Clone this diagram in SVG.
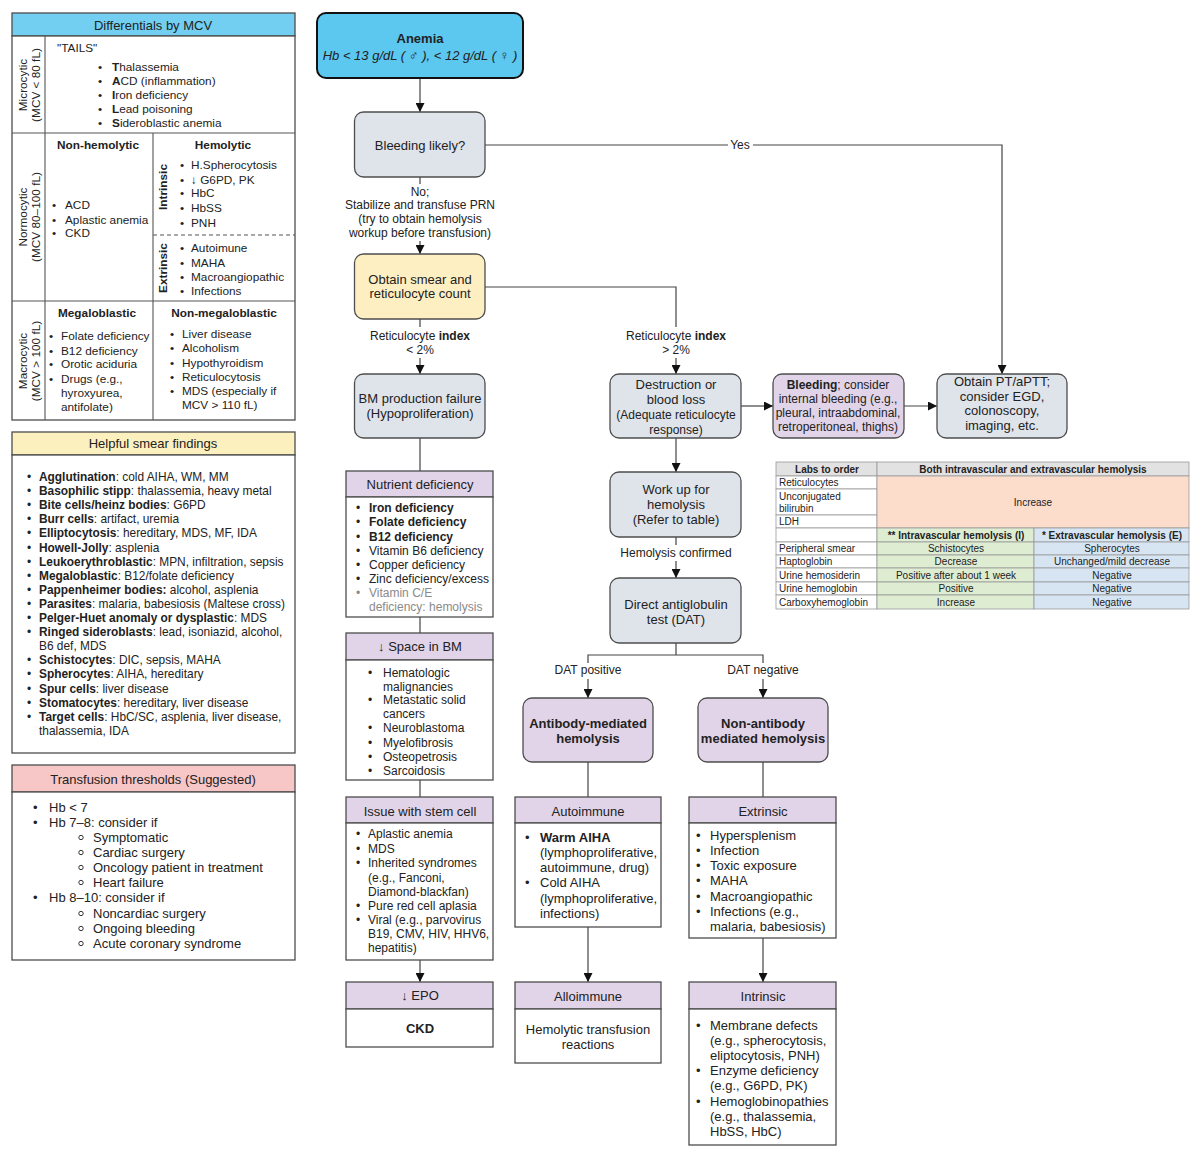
<svg xmlns="http://www.w3.org/2000/svg" width="1200" height="1151" viewBox="0 0 1200 1151">
<defs>
<marker id="ah" viewBox="0 0 10 10" refX="10" refY="5" markerWidth="9" markerHeight="9" markerUnits="userSpaceOnUse" orient="auto"><path d="M0,0 L10,5 L0,10 z" fill="#111"/></marker>
<style>
text{font-family:"Liberation Sans",Arial,Helvetica,sans-serif;fill:#222}
.c{text-anchor:middle}
.b{font-weight:bold}
.i{font-style:italic}
.f10{font-size:10px}
.f11{font-size:11.9px}
.f115{font-size:11.8px}
.f12{font-size:12px}
.f13{font-size:13px}
.box{stroke:#4d4d4d;stroke-width:1.3}
.g{fill:#dfe3ea}
.p{fill:#e1d4e9}
.y{fill:#fdefc2}
.w{fill:#fff}
.ln{stroke:#444;stroke-width:1.2;fill:none}
.ar{marker-end:url(#ah)}
.tl{stroke:#555;stroke-width:1.1;fill:none}
.cell{stroke:#9a9a9a;stroke-width:0.8}
.grey{fill:#8a8a8a}
.sb{fill:none;stroke:#333;stroke-width:1}
</style>
</defs>
<rect width="1200" height="1151" fill="#fff"/>

<!-- Differentials by MCV -->
<g id="mcv-panel">
<rect x="12" y="13" width="283" height="23" fill="#72cff1" class="box"/>
<text x="153" y="30" class="c f13">Differentials by MCV</text>
<rect x="12" y="36" width="283" height="384" class="w box"/>
<line x1="12" y1="133" x2="295" y2="133" class="tl"/>
<line x1="12" y1="301" x2="295" y2="301" class="tl"/>
<line x1="45" y1="36" x2="45" y2="420" class="tl"/>
<line x1="153" y1="133" x2="153" y2="420" class="tl"/>
<line x1="153" y1="235" x2="295" y2="235" class="tl" stroke-dasharray="4,3"/>
<text transform="translate(28,85) rotate(-90)" class="c f115"><tspan x="0" y="-1">Microcytic</tspan><tspan x="0" y="12">(MCV &lt; 80 fL)</tspan></text>
<text transform="translate(28,217) rotate(-90)" class="c f115"><tspan x="0" y="-1">Normocytic</tspan><tspan x="0" y="12">(MCV 80–100 fL)</tspan></text>
<text transform="translate(28,361) rotate(-90)" class="c f115"><tspan x="0" y="-1">Macrocytic</tspan><tspan x="0" y="12">(MCV &gt; 100 fL)</tspan></text>
<text x="57" y="52" class="f115">"TAILS"</text>
<g class="f115">
<text y="71"><tspan x="98">•</tspan><tspan x="112" class="b">T</tspan>halassemia</text>
<text y="85"><tspan x="98">•</tspan><tspan x="112" class="b">A</tspan>CD (inflammation)</text>
<text y="99"><tspan x="98">•</tspan><tspan x="112" class="b">I</tspan>ron deficiency</text>
<text y="113"><tspan x="98">•</tspan><tspan x="112" class="b">L</tspan>ead poisoning</text>
<text y="127"><tspan x="98">•</tspan><tspan x="112" class="b">S</tspan>ideroblastic anemia</text>
</g>
<text x="98" y="149" class="c b f115">Non-hemolytic</text>
<text x="223" y="149" class="c b f115">Hemolytic</text>
<text transform="translate(167,187) rotate(-90)" class="c b f115">Intrinsic</text>
<text transform="translate(167,268) rotate(-90)" class="c b f115">Extrinsic</text>
<g class="f115">
<text y="209"><tspan x="52">•</tspan><tspan x="65">ACD</tspan></text>
<text y="224"><tspan x="52">•</tspan><tspan x="65">Aplastic anemia</tspan></text>
<text y="237"><tspan x="52">•</tspan><tspan x="65">CKD</tspan></text>
<text y="169"><tspan x="180">•</tspan><tspan x="191">H.Spherocytosis</tspan></text>
<text y="184"><tspan x="180">•</tspan><tspan x="191">↓ G6PD, PK</tspan></text>
<text y="197"><tspan x="180">•</tspan><tspan x="191">HbC</tspan></text>
<text y="212"><tspan x="180">•</tspan><tspan x="191">HbSS</tspan></text>
<text y="227"><tspan x="180">•</tspan><tspan x="191">PNH</tspan></text>
<text y="252"><tspan x="180">•</tspan><tspan x="191">Autoimune</tspan></text>
<text y="267"><tspan x="180">•</tspan><tspan x="191">MAHA</tspan></text>
<text y="281"><tspan x="180">•</tspan><tspan x="191">Macroangiopathic</tspan></text>
<text y="295"><tspan x="180">•</tspan><tspan x="191">Infections</tspan></text>
</g>
<text x="97" y="317" class="c b f115">Megaloblastic</text>
<text x="224" y="317" class="c b f115">Non-megaloblastic</text>
<g class="f115">
<text y="340"><tspan x="49">•</tspan><tspan x="61">Folate deficiency</tspan></text>
<text y="355"><tspan x="49">•</tspan><tspan x="61">B12 deficiency</tspan></text>
<text y="368"><tspan x="49">•</tspan><tspan x="61">Orotic aciduria</tspan></text>
<text y="383"><tspan x="49">•</tspan><tspan x="61">Drugs (e.g.,</tspan></text>
<text x="61" y="397">hyroxyurea,</text>
<text x="61" y="411">antifolate)</text>
<text y="338"><tspan x="170">•</tspan><tspan x="182">Liver disease</tspan></text>
<text y="352"><tspan x="170">•</tspan><tspan x="182">Alcoholism</tspan></text>
<text y="367"><tspan x="170">•</tspan><tspan x="182">Hypothyroidism</tspan></text>
<text y="381"><tspan x="170">•</tspan><tspan x="182">Reticulocytosis</tspan></text>
<text y="395"><tspan x="170">•</tspan><tspan x="182">MDS (especially if</tspan></text>
<text x="182" y="409">MCV &gt; 110 fL)</text>
</g>
</g>

<!-- Helpful smear findings -->
<g id="smear-panel">
<rect x="12" y="432" width="283" height="23" fill="#fdf0bf" class="box"/>
<text x="153" y="448" class="c f13">Helpful smear findings</text>
<rect x="12" y="455" width="283" height="298" class="w box"/>
<g class="f11">
<text y="481"><tspan x="27">•</tspan><tspan x="39" class="b">Agglutination</tspan>: cold AIHA, WM, MM</text>
<text y="495.1"><tspan x="27">•</tspan><tspan x="39" class="b">Basophilic stipp</tspan>: thalassemia, heavy metal</text>
<text y="509.2"><tspan x="27">•</tspan><tspan x="39" class="b">Bite cells/heinz bodies</tspan>: G6PD</text>
<text y="523.3"><tspan x="27">•</tspan><tspan x="39" class="b">Burr cells</tspan>: artifact, uremia</text>
<text y="537.4"><tspan x="27">•</tspan><tspan x="39" class="b">Elliptocytosis</tspan>: hereditary, MDS, MF, IDA</text>
<text y="551.5"><tspan x="27">•</tspan><tspan x="39" class="b">Howell-Jolly</tspan>: asplenia</text>
<text y="565.6"><tspan x="27">•</tspan><tspan x="39" class="b">Leukoerythroblastic</tspan>: MPN, infiltration, sepsis</text>
<text y="579.7"><tspan x="27">•</tspan><tspan x="39" class="b">Megaloblastic</tspan>: B12/folate deficiency</text>
<text y="593.8"><tspan x="27">•</tspan><tspan x="39" class="b">Pappenheimer bodies:</tspan> alcohol, asplenia</text>
<text y="607.9"><tspan x="27">•</tspan><tspan x="39" class="b">Parasites</tspan>: malaria, babesiosis (Maltese cross)</text>
<text y="622"><tspan x="27">•</tspan><tspan x="39" class="b">Pelger-Huet anomaly or dysplastic</tspan>: MDS</text>
<text y="636.1"><tspan x="27">•</tspan><tspan x="39" class="b">Ringed sideroblasts</tspan>: lead, isoniazid, alcohol,</text>
<text x="39" y="650.2">B6 def, MDS</text>
<text y="664.3"><tspan x="27">•</tspan><tspan x="39" class="b">Schistocytes</tspan>: DIC, sepsis, MAHA</text>
<text y="678.4"><tspan x="27">•</tspan><tspan x="39" class="b">Spherocytes</tspan>: AIHA, hereditary</text>
<text y="692.5"><tspan x="27">•</tspan><tspan x="39" class="b">Spur cells</tspan>: liver disease</text>
<text y="706.6"><tspan x="27">•</tspan><tspan x="39" class="b">Stomatocytes</tspan>: hereditary, liver disease</text>
<text y="720.7"><tspan x="27">•</tspan><tspan x="39" class="b">Target cells</tspan>: HbC/SC, asplenia, liver disease,</text>
<text x="39" y="734.8">thalassemia, IDA</text>
</g>
</g>

<!-- Transfusion thresholds -->
<g id="transfusion-panel">
<rect x="12" y="765" width="283" height="27" fill="#f7c6c6" class="box"/>
<text x="153" y="784" class="c f13">Transfusion thresholds (Suggested)</text>
<rect x="12" y="792" width="283" height="168" class="w box"/>
<g class="f13">
<text y="812"><tspan x="33">•</tspan><tspan x="49">Hb &lt; 7</tspan></text>
<text y="827"><tspan x="33">•</tspan><tspan x="49">Hb 7–8: consider if</tspan></text>
<text x="93" y="842">Symptomatic</text>
<text x="93" y="857">Cardiac surgery</text>
<text x="93" y="872">Oncology patient in treatment</text>
<text x="93" y="887">Heart failure</text>
<text y="902"><tspan x="33">•</tspan><tspan x="49">Hb 8–10: consider if</tspan></text>
<text x="93" y="918">Noncardiac surgery</text>
<text x="93" y="933">Ongoing bleeding</text>
<text x="93" y="948">Acute coronary syndrome</text>
</g>
<circle cx="81" cy="837.5" r="2.2" class="sb"/>
<circle cx="81" cy="852.5" r="2.2" class="sb"/>
<circle cx="81" cy="867.5" r="2.2" class="sb"/>
<circle cx="81" cy="882.5" r="2.2" class="sb"/>
<circle cx="81" cy="913.5" r="2.2" class="sb"/>
<circle cx="81" cy="928.5" r="2.2" class="sb"/>
<circle cx="81" cy="943.5" r="2.2" class="sb"/>
</g>

<!-- Connectors -->
<g id="connectors">
<line x1="420" y1="79" x2="420" y2="112" class="ln ar"/>
<line x1="420" y1="177" x2="420" y2="184" class="ln"/>
<line x1="420" y1="241" x2="420" y2="254" class="ln ar"/>
<polyline points="485,145 728,145" class="ln"/>
<polyline points="753,145 1002,145 1002,374" class="ln ar"/>
<line x1="420" y1="319" x2="420" y2="327" class="ln"/>
<line x1="420" y1="358" x2="420" y2="374" class="ln ar"/>
<polyline points="485,287 676,287 676,327" class="ln"/>
<line x1="676" y1="358" x2="676" y2="374" class="ln ar"/>
<line x1="741" y1="406" x2="773" y2="406" class="ln ar"/>
<line x1="904" y1="406" x2="937" y2="406" class="ln ar"/>
<line x1="676" y1="438" x2="676" y2="472" class="ln ar"/>
<line x1="676" y1="537" x2="676" y2="545" class="ln"/>
<line x1="676" y1="561" x2="676" y2="578" class="ln ar"/>
<polyline points="676,643 676,655" class="ln"/>
<polyline points="588,663 588,655 763,655 763,663" class="ln"/>
<line x1="588" y1="679" x2="588" y2="698" class="ln ar"/>
<line x1="763" y1="679" x2="763" y2="698" class="ln ar"/>
<line x1="588" y1="762" x2="588" y2="797" class="ln"/>
<line x1="763" y1="762" x2="763" y2="797" class="ln"/>
<line x1="588" y1="927" x2="588" y2="982" class="ln ar"/>
<line x1="763" y1="938" x2="763" y2="982" class="ln ar"/>
<line x1="420" y1="438" x2="420" y2="471" class="ln"/>
<line x1="420" y1="617" x2="420" y2="633" class="ln"/>
<line x1="420" y1="780" x2="420" y2="797" class="ln"/>
<line x1="420" y1="960" x2="420" y2="982" class="ln ar"/>
<text x="740" y="149" class="c f12">Yes</text>
<g class="c f12">
<text x="420" y="196">No;</text>
<text x="420" y="209">Stabilize and transfuse PRN</text>
<text x="420" y="223">(try to obtain hemolysis</text>
<text x="420" y="237">workup before transfusion)</text>
<text x="420" y="340">Reticulocyte <tspan class="b">index</tspan></text>
<text x="420" y="354">&lt; 2%</text>
<text x="676" y="340">Reticulocyte <tspan class="b">index</tspan></text>
<text x="676" y="354">&gt; 2%</text>
<text x="676" y="557">Hemolysis confirmed</text>
<text x="588" y="674">DAT positive</text>
<text x="763" y="674">DAT negative</text>
</g>
</g>

<!-- Flow nodes -->
<g id="anemia">
<rect x="317" y="13" width="206" height="65" rx="9" fill="#5cc8f0" stroke="#111" stroke-width="2"/>
<text x="420" y="43" class="c b f13">Anemia</text>
<text x="420" y="60" class="c i f13">Hb &lt; 13 g/dL ( ♂ ), &lt; 12 g/dL ( ♀ )</text>
</g>
<g id="bleeding-likely">
<rect x="354.5" y="112" width="130.5" height="65" rx="9" class="g box"/>
<text x="420" y="150" class="c f13">Bleeding likely?</text>
</g>
<g id="smear-retic">
<rect x="354.5" y="254" width="130.5" height="65" rx="9" class="y box"/>
<text x="420" y="284" class="c f13">Obtain smear and</text>
<text x="420" y="298" class="c f13">reticulocyte count</text>
</g>
<g id="bm-failure">
<rect x="354.5" y="374" width="130.5" height="64" rx="9" class="g box"/>
<text x="420" y="403" class="c f13">BM production failure</text>
<text x="420" y="418" class="c f13">(Hypoproliferation)</text>
</g>
<g id="destruction">
<rect x="610" y="374" width="131" height="64" rx="9" class="g box"/>
<text x="676" y="389" class="c f13">Destruction or</text>
<text x="676" y="404" class="c f13">blood loss</text>
<text x="676" y="419" class="c f12">(Adequate reticulocyte</text>
<text x="676" y="434" class="c f12">response)</text>
</g>
<g id="bleeding">
<rect x="773" y="374" width="131" height="64" rx="9" class="p box"/>
<text x="838" y="389" class="c f12"><tspan class="b">Bleeding</tspan>; consider</text>
<text x="838" y="403" class="c f12">internal bleeding (e.g.,</text>
<text x="838" y="417" class="c f12">pleural, intraabdominal,</text>
<text x="838" y="431" class="c f12">retroperitoneal, thighs)</text>
</g>
<g id="pt-aptt">
<rect x="937" y="374" width="130" height="64" rx="9" class="g box"/>
<text x="1002" y="386" class="c f13">Obtain PT/aPTT;</text>
<text x="1002" y="401" class="c f13">consider EGD,</text>
<text x="1002" y="415" class="c f13">colonoscopy,</text>
<text x="1002" y="430" class="c f13">imaging, etc.</text>
</g>
<g id="workup">
<rect x="610" y="472" width="131" height="65" rx="9" class="g box"/>
<text x="676" y="494" class="c f13">Work up for</text>
<text x="676" y="509" class="c f13">hemolysis</text>
<text x="676" y="524" class="c f13">(Refer to table)</text>
</g>
<g id="dat">
<rect x="610" y="578" width="131" height="65" rx="9" class="g box"/>
<text x="676" y="609" class="c f13">Direct antiglobulin</text>
<text x="676" y="624" class="c f13">test (DAT)</text>
</g>
<g id="antibody">
<rect x="523" y="698" width="130" height="64" rx="9" class="p box"/>
<text x="588" y="728" class="c b f13">Antibody-mediated</text>
<text x="588" y="743" class="c b f13">hemolysis</text>
</g>
<g id="non-antibody">
<rect x="698" y="698" width="130" height="64" rx="9" class="p box"/>
<text x="763" y="728" class="c b f13">Non-antibody</text>
<text x="763" y="743" class="c b f13">mediated hemolysis</text>
</g>

<!-- List boxes, left branch -->
<g id="nutrient">
<rect x="346" y="471" width="147" height="26" class="p box"/>
<text x="420" y="489" class="c f13">Nutrient deficiency</text>
<rect x="346" y="497" width="147" height="120" class="w box"/>
<g class="f12">
<text y="512"><tspan x="356">•</tspan><tspan x="369" class="b">Iron deficiency</tspan></text>
<text y="526"><tspan x="356">•</tspan><tspan x="369" class="b">Folate deficiency</tspan></text>
<text y="541"><tspan x="356">•</tspan><tspan x="369" class="b">B12 deficiency</tspan></text>
<text y="555"><tspan x="356">•</tspan><tspan x="369">Vitamin B6 deficiency</tspan></text>
<text y="569"><tspan x="356">•</tspan><tspan x="369">Copper deficiency</tspan></text>
<text y="583"><tspan x="356">•</tspan><tspan x="369">Zinc deficiency/excess</tspan></text>
<text y="597" class="grey"><tspan x="356" class="grey">•</tspan><tspan x="369" class="grey">Vitamin C/E</tspan></text>
<text x="369" y="611" class="grey">deficiency: hemolysis</text>
</g>
</g>
<g id="space-bm">
<rect x="346" y="633" width="147" height="27" class="p box"/>
<text x="420" y="651" class="c f13">↓ Space in BM</text>
<rect x="346" y="660" width="147" height="120" class="w box"/>
<g class="f12">
<text y="677"><tspan x="368">•</tspan><tspan x="383">Hematologic</tspan></text>
<text x="383" y="691">malignancies</text>
<text y="704"><tspan x="368">•</tspan><tspan x="383">Metastatic solid</tspan></text>
<text x="383" y="718">cancers</text>
<text y="732"><tspan x="368">•</tspan><tspan x="383">Neuroblastoma</tspan></text>
<text y="747"><tspan x="368">•</tspan><tspan x="383">Myelofibrosis</tspan></text>
<text y="761"><tspan x="368">•</tspan><tspan x="383">Osteopetrosis</tspan></text>
<text y="775"><tspan x="368">•</tspan><tspan x="383">Sarcoidosis</tspan></text>
</g>
</g>
<g id="stem-cell">
<rect x="346" y="797" width="147" height="26" class="p box"/>
<text x="420" y="816" class="c f13">Issue with stem cell</text>
<rect x="346" y="823" width="147" height="137" class="w box"/>
<g class="f12">
<text y="838"><tspan x="356">•</tspan><tspan x="368">Aplastic anemia</tspan></text>
<text y="853"><tspan x="356">•</tspan><tspan x="368">MDS</tspan></text>
<text y="867"><tspan x="356">•</tspan><tspan x="368">Inherited syndromes</tspan></text>
<text x="368" y="882">(e.g., Fanconi,</text>
<text x="368" y="896">Diamond-blackfan)</text>
<text y="910"><tspan x="356">•</tspan><tspan x="368">Pure red cell aplasia</tspan></text>
<text y="924"><tspan x="356">•</tspan><tspan x="368">Viral (e.g., parvovirus</tspan></text>
<text x="368" y="938">B19, CMV, HIV, HHV6,</text>
<text x="368" y="952">hepatitis)</text>
</g>
</g>
<g id="epo">
<rect x="346" y="982" width="147" height="27" class="p box"/>
<text x="420" y="1000" class="c f13">↓ EPO</text>
<rect x="346" y="1009" width="147" height="38" class="w box"/>
<text x="420" y="1033" class="c b f13">CKD</text>
</g>

<!-- Antibody branch -->
<g id="autoimmune">
<rect x="515" y="797" width="146" height="26" class="p box"/>
<text x="588" y="816" class="c f13">Autoimmune</text>
<rect x="515" y="823" width="146" height="104" class="w box"/>
<g class="f13">
<text y="842"><tspan x="525">•</tspan><tspan x="540" class="b">Warm AIHA</tspan></text>
<text x="540" y="857">(lymphoproliferative,</text>
<text x="540" y="872">autoimmune, drug)</text>
<text y="887"><tspan x="525">•</tspan><tspan x="540">Cold AIHA</tspan></text>
<text x="540" y="903">(lymphoproliferative,</text>
<text x="540" y="918">infections)</text>
</g>
</g>
<g id="alloimmune">
<rect x="515" y="982" width="146" height="27" class="p box"/>
<text x="588" y="1001" class="c f13">Alloimmune</text>
<rect x="515" y="1009" width="146" height="54" class="w box"/>
<text x="588" y="1034" class="c f13">Hemolytic transfusion</text>
<text x="588" y="1049" class="c f13">reactions</text>
</g>
<g id="extrinsic">
<rect x="689" y="797" width="147" height="26" class="p box"/>
<text x="763" y="816" class="c f13">Extrinsic</text>
<rect x="689" y="823" width="147" height="115" class="w box"/>
<g class="f13">
<text y="840"><tspan x="696">•</tspan><tspan x="710">Hypersplenism</tspan></text>
<text y="855"><tspan x="696">•</tspan><tspan x="710">Infection</tspan></text>
<text y="870"><tspan x="696">•</tspan><tspan x="710">Toxic exposure</tspan></text>
<text y="885"><tspan x="696">•</tspan><tspan x="710">MAHA</tspan></text>
<text y="901"><tspan x="696">•</tspan><tspan x="710">Macroangiopathic</tspan></text>
<text y="916"><tspan x="696">•</tspan><tspan x="710">Infections (e.g.,</tspan></text>
<text x="710" y="931">malaria, babesiosis)</text>
</g>
</g>
<g id="intrinsic">
<rect x="689" y="982" width="147" height="27" class="p box"/>
<text x="763" y="1001" class="c f13">Intrinsic</text>
<rect x="689" y="1009" width="147" height="136" class="w box"/>
<g class="f13">
<text y="1030"><tspan x="696">•</tspan><tspan x="710">Membrane defects</tspan></text>
<text x="710" y="1045">(e.g., spherocytosis,</text>
<text x="710" y="1060">eliptocytosis, PNH)</text>
<text y="1075"><tspan x="696">•</tspan><tspan x="710">Enzyme deficiency</tspan></text>
<text x="710" y="1090">(e.g., G6PD, PK)</text>
<text y="1106"><tspan x="696">•</tspan><tspan x="710">Hemoglobinopathies</tspan></text>
<text x="710" y="1121">(e.g., thalassemia,</text>
<text x="710" y="1136">HbSS, HbC)</text>
</g>
</g>

<!-- Labs table -->
<g id="labs-table">
<rect x="776" y="462" width="101" height="14" fill="#e2e2e2" class="cell"/>
<rect x="877" y="462" width="312" height="14" fill="#e2e2e2" class="cell"/>
<rect x="776" y="476" width="101" height="13" fill="#fff" class="cell"/>
<rect x="776" y="489" width="101" height="26" fill="#fff" class="cell"/>
<rect x="776" y="515" width="101" height="13" fill="#fff" class="cell"/>
<rect x="877" y="476" width="312" height="52" fill="#fcdccb" class="cell"/>
<rect x="776" y="528" width="101" height="14" fill="#fff" class="cell"/>
<rect x="877" y="528" width="157" height="14" fill="#deecd2" class="cell"/>
<rect x="1034" y="528" width="155" height="14" fill="#d7e5f3" class="cell"/>
<rect x="776" y="542" width="101" height="13" fill="#fff" class="cell"/>
<rect x="776" y="555" width="101" height="13" fill="#fff" class="cell"/>
<rect x="776" y="568" width="101" height="14" fill="#fff" class="cell"/>
<rect x="776" y="582" width="101" height="13" fill="#fff" class="cell"/>
<rect x="776" y="595" width="101" height="14" fill="#fff" class="cell"/>
<rect x="877" y="542" width="157" height="13" fill="#deecd2" class="cell"/>
<rect x="877" y="555" width="157" height="13" fill="#deecd2" class="cell"/>
<rect x="877" y="568" width="157" height="14" fill="#deecd2" class="cell"/>
<rect x="877" y="582" width="157" height="13" fill="#deecd2" class="cell"/>
<rect x="877" y="595" width="157" height="14" fill="#deecd2" class="cell"/>
<rect x="1034" y="542" width="155" height="13" fill="#d7e5f3" class="cell"/>
<rect x="1034" y="555" width="155" height="13" fill="#d7e5f3" class="cell"/>
<rect x="1034" y="568" width="155" height="14" fill="#d7e5f3" class="cell"/>
<rect x="1034" y="582" width="155" height="13" fill="#d7e5f3" class="cell"/>
<rect x="1034" y="595" width="155" height="14" fill="#d7e5f3" class="cell"/>
<g class="f10">
<text x="827" y="472.5" class="c b">Labs to order</text>
<text x="1033" y="472.5" class="c b">Both intravascular and extravascular hemolysis</text>
<text x="779" y="486">Reticulocytes</text>
<text x="779" y="500">Unconjugated</text>
<text x="779" y="512">bilirubin</text>
<text x="779" y="525">LDH</text>
<text x="1033" y="506" class="c">Increase</text>
<text x="956" y="539" class="c b">** Intravascular hemolysis (I)</text>
<text x="1112" y="539" class="c b">* Extravascular hemolysis (E)</text>
<text x="779" y="552">Peripheral smear</text>
<text x="779" y="565">Haptoglobin</text>
<text x="779" y="579">Urine hemosiderin</text>
<text x="779" y="592">Urine hemoglobin</text>
<text x="779" y="606">Carboxyhemoglobin</text>
<text x="956" y="552" class="c">Schistocytes</text>
<text x="956" y="565" class="c">Decrease</text>
<text x="956" y="579" class="c">Positive after about 1 week</text>
<text x="956" y="592" class="c">Positive</text>
<text x="956" y="606" class="c">Increase</text>
<text x="1112" y="552" class="c">Spherocytes</text>
<text x="1112" y="565" class="c">Unchanged/mild decrease</text>
<text x="1112" y="579" class="c">Negative</text>
<text x="1112" y="592" class="c">Negative</text>
<text x="1112" y="606" class="c">Negative</text>
</g>
</g>
</svg>
